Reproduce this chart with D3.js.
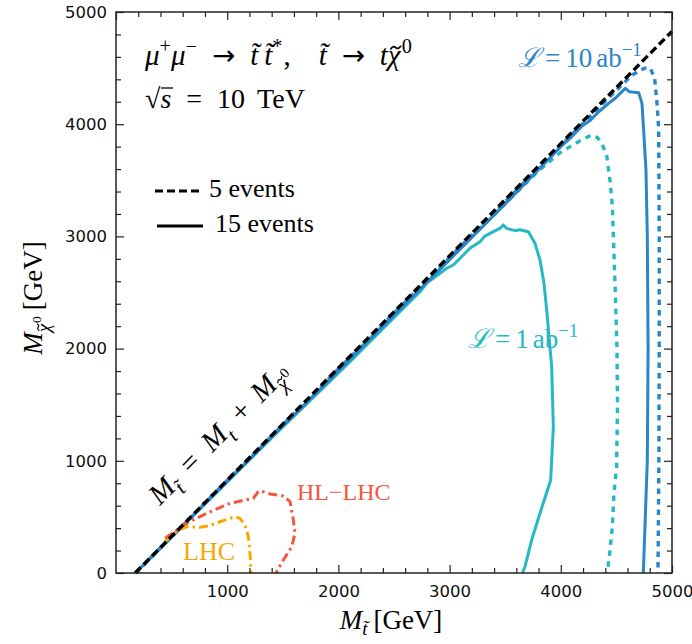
<!DOCTYPE html>
<html><head><meta charset="utf-8">
<script src="https://cdn.jsdelivr.net/npm/d3@7"></script>
<style>html,body{margin:0;padding:0;background:#fff;}</style>
</head><body>
<svg id="chart" width="692" height="644"></svg>
<script>
// ---- data (GeV) ----
const xTicks = [1000, 2000, 3000, 4000, 5000];
const yTicks = [0, 1000, 2000, 3000, 4000, 5000];
const kinematicLine = [[173, 0], [5000, 4827]];
const lumi1_15ev = [[175,0],[600,420],[1000,812],[1400,1205],[1800,1590],[2100,1880],[2400,2178],[2600,2375],[2734,2507],[2800,2590],[2854,2627],[2974,2716],[3033,2745],[3108,2819],[3183,2894],[3273,2953],[3318,3003],[3393,3042],[3453,3072],[3483,3102],[3513,3072],[3588,3051],[3633,3060],[3708,3042],[3768,2938],[3813,2790],[3849,2582],[3873,2344],[3918,1839],[3933,1304],[3909,829],[3813,532],[3738,294],[3678,56],[3655,0]];
const lumi1_5ev = [[175,0],[1000,820],[2000,1810],[3000,2800],[3500,3292],[3800,3585],[3993,3745],[4083,3800],[4173,3853],[4278,3904],[4330,3880],[4368,3830],[4412,3725],[4442,3503],[4464,3265],[4472,3028],[4490,2500],[4505,2000],[4510,1500],[4502,947],[4478,710],[4464,413],[4436,145],[4418,0]];
const lumi10_15ev = [[175,0],[1000,815],[2000,1802],[3000,2792],[3500,3290],[4000,3800],[4100,3890],[4191,3984],[4260,4030],[4341,4111],[4430,4186],[4490,4231],[4550,4290],[4580,4320],[4616,4290],[4700,4281],[4730,4186],[4745,3948],[4766,3592],[4778,2997],[4785,2000],[4778,1007],[4757,413],[4742,0]];
const lumi10_5ev = [[175,0],[1000,825],[2000,1818],[3000,2812],[4000,3810],[4400,4205],[4640,4438],[4680,4460],[4715,4483],[4760,4500],[4805,4498],[4844,4409],[4865,4186],[4880,3960],[4885,3000],[4885,2000],[4882,1000],[4874,0]];
const lhc = [[441,279],[486,324],[560,380],[635,413],[755,407],[830,419],[935,457],[1070,502],[1115,487],[1160,428],[1190,324],[1205,176],[1214,27],[1215,0]];
const hllhc = [[441,309],[635,443],[815,532],[1025,621],[1235,666],[1280,725],[1295,734],[1385,704],[1505,686],[1565,636],[1595,472],[1610,354],[1580,234],[1505,116],[1445,12],[1435,0]];

const svg = d3.select('#chart');
const L = 116, R = 672, T = 12, B = 573;
const x = d3.scaleLinear().domain([0, 5000]).range([L, R]);
const y = d3.scaleLinear().domain([0, 5000]).range([B, T]);

const serif = "'Liberation Serif','Times New Roman',serif";
const sans = "'DejaVu Sans',Arial,sans-serif";

// curves
const line = d3.line().x(d => x(d[0])).y(d => y(d[1]));
const plot = svg.append('g');
function draw(data, color, width, dash) {
  plot.append('path').attr('d', line(data)).attr('fill', 'none')
    .attr('stroke', color).attr('stroke-width', width)
    .attr('stroke-dasharray', dash || null).attr('stroke-linejoin', 'round');
}
const blue = '#2b85c9', teal = '#25b9c4', red = '#f4573c', orange = '#f6a800';
draw(lumi1_15ev, teal, 3);
draw(lumi1_5ev, teal, 3.4, '5.5,5.5');
draw(lumi10_15ev, blue, 3);
draw(lumi10_5ev, blue, 3.4, '5.5,5');
draw(lhc, orange, 3, '9,4,2.5,4');
draw(hllhc, red, 3, '9,4,2.5,4');
draw(kinematicLine, '#000', 3.4, '8,4');

// axes (ticks inward on all sides)
const minor = d3.range(0, 5001, 200).filter(v => v % 1000 !== 0);
svg.append('g').attr('transform', `translate(0,${B})`)
  .call(d3.axisBottom(x).tickValues(xTicks).tickSize(-8).tickPadding(12).tickFormat(d3.format('d')));
svg.append('g').attr('transform', `translate(0,${B})`)
  .call(d3.axisBottom(x).tickValues(minor).tickSize(-5).tickFormat(''));
svg.append('g').attr('transform', `translate(${L},0)`)
  .call(d3.axisLeft(y).tickValues(yTicks).tickSize(-8).tickPadding(9).tickFormat(d3.format('d')));
svg.append('g').attr('transform', `translate(${L},0)`)
  .call(d3.axisLeft(y).tickValues(minor).tickSize(-5).tickFormat(''));
svg.append('g').attr('transform', `translate(0,${T})`)
  .call(d3.axisTop(x).tickValues([0,1000,2000,3000,4000,5000]).tickSize(-8).tickFormat(''));
svg.append('g').attr('transform', `translate(0,${T})`)
  .call(d3.axisTop(x).tickValues(minor).tickSize(-5).tickFormat(''));
svg.append('g').attr('transform', `translate(${R},0)`)
  .call(d3.axisRight(y).tickValues(yTicks).tickSize(-8).tickFormat(''));
svg.append('g').attr('transform', `translate(${R},0)`)
  .call(d3.axisRight(y).tickValues(minor).tickSize(-5).tickFormat(''));
svg.selectAll('.domain').remove();
svg.selectAll('.tick line').attr('stroke', '#222').attr('stroke-width', 1.2);
svg.selectAll('.tick text').style('font-family', sans).style('font-size', '16.5px').attr('fill', '#111');
svg.append('rect').attr('x', L).attr('y', T).attr('width', R - L).attr('height', B - T)
  .attr('fill', 'none').attr('stroke', '#222').attr('stroke-width', 1.5);

// rich text helper: lv = baseline offset (em of base size, + is down), fs = size multiplier, dx = px gap before
function rich(g, t, segs, size, color) {
  let shift = 0;
  const tildes = [];
  segs.forEach(s => {
    const fs = (s.fs || 1) * size;
    const target = (s.lv || 0) * size;
    const ts = t.append('tspan').text(s.t).attr('dy', target - shift)
      .style('font-size', fs + 'px').style('font-style', s.it ? 'italic' : 'normal');
    if (s.ff) ts.style('font-family', s.ff);
    if (s.dx) ts.attr('dx', s.dx);
    if (s.tilde) tildes.push([ts, fs]);
    shift = target;
  });
  // draw tilde accents as small paths above marked glyphs
  tildes.forEach(([ts, fs]) => {
    const n = ts.node();
    const p0 = n.getStartPositionOfChar(0), p1 = n.getEndPositionOfChar(0);
    const w = 0.34 * fs, a = 0.045 * fs;
    const cx = (p0.x + p1.x) / 2 + 0.05 * fs, cy = p0.y - 0.6 * fs;
    const x0 = cx - w / 2;
    g.append('path')
      .attr('d', `M${x0},${cy + a} Q${x0 + w / 4},${cy - 1.7 * a} ${x0 + w / 2},${cy} T${x0 + w},${cy - a}`)
      .attr('fill', 'none').attr('stroke', color).attr('stroke-width', Math.max(1, 0.06 * fs))
      .attr('stroke-linecap', 'round');
  });
}
function label(xp, yp, segs, size, color, anchor, rot) {
  color = color || '#000';
  const g = svg.append('g');
  if (rot) g.attr('transform', `rotate(${rot},${xp},${yp})`);
  const t = g.append('text').attr('x', xp).attr('y', yp)
    .style('font-family', serif).attr('fill', color)
    .attr('text-anchor', anchor || 'start');
  rich(g, t, segs, size, color);
  return g;
}
const tl = 't\u0303';
const SUP = -0.42, SUB = 0.28;
const arrowFF = "'DejaVu Sans',sans-serif";
label(145, 65, [{t:'μ', it:1},{t:'+', lv:SUP, fs:0.7},{t:'μ', it:1},{t:'−', lv:SUP, fs:0.7},
  {t:'→', dx:15, ff:arrowFF, fs:0.95},{t:tl, it:1, dx:15},{t:tl, it:1, dx:6},{t:'*', lv:SUP, fs:0.7},{t:',', dx:1},
  {t:tl, it:1, dx:28},{t:'→', dx:15, ff:arrowFF, fs:0.95},{t:'t', it:1, dx:15},{t:'χ', it:1, tilde:1},{t:'0', lv:SUP, fs:0.7, dx:1}], 29);
label(145, 108, [{t:'√'},{t:'s', it:1},{t:'=', dx:15},{t:'10', dx:15},{t:'TeV', dx:12}], 28);
// vinculum of the square root
svg.append('line').attr('x1', 161).attr('x2', 173).attr('y1', 88).attr('y2', 88)
  .attr('stroke', '#000').attr('stroke-width', 1.3);

// legend
svg.append('line').attr('x1', 155).attr('x2', 200).attr('y1', 191).attr('y2', 191)
  .attr('stroke', '#000').attr('stroke-width', 3).attr('stroke-dasharray', '8,4');
svg.append('line').attr('x1', 157).attr('x2', 203).attr('y1', 226).attr('y2', 226)
  .attr('stroke', '#000').attr('stroke-width', 3);
label(209, 197, [{t:'5 events'}], 26);
label(215, 232, [{t:'15 events'}], 26);

// curve labels
label(518, 67, [{t:'ℒ', it:1},{t:'=', dx:5},{t:'10', dx:5},{t:'ab', dx:4},{t:'−1', lv:SUP, fs:0.7}], 27, blue);
label(468, 348, [{t:'ℒ', it:1},{t:'=', dx:5},{t:'1', dx:5},{t:'ab', dx:4},{t:'−1', lv:SUP, fs:0.7}], 27, teal);
label(297, 500, [{t:'HL−LHC'}], 24, red);
label(183, 560, [{t:'LHC'}], 26, orange);
label(160, 506, [{t:'M', it:1},{t:tl, it:1, lv:SUB, fs:0.7},{t:'=', dx:14},{t:'M', it:1, dx:14},{t:'t', it:1, lv:SUB, fs:0.7},{t:'+', dx:12},{t:'M', it:1, dx:12},
  {t:'χ', it:1, lv:SUB, fs:0.7, tilde:1},{t:'0', lv:-0.02, fs:0.5, dx:1}], 29, '#000', 'start', -45.2);

// axis titles
label(391, 629, [{t:'M', it:1},{t:tl, it:1, lv:0.24, fs:0.7},{t:'[GeV]', dx:6}], 27, '#000', 'middle');
label(42, 298, [{t:'M', it:1},{t:'χ', it:1, lv:SUB, fs:0.7, tilde:1},{t:'0', lv:-0.02, fs:0.5, dx:1},{t:'[GeV]', lv:0, dx:6}], 27, '#000', 'middle', -90);
</script>
</body></html>
